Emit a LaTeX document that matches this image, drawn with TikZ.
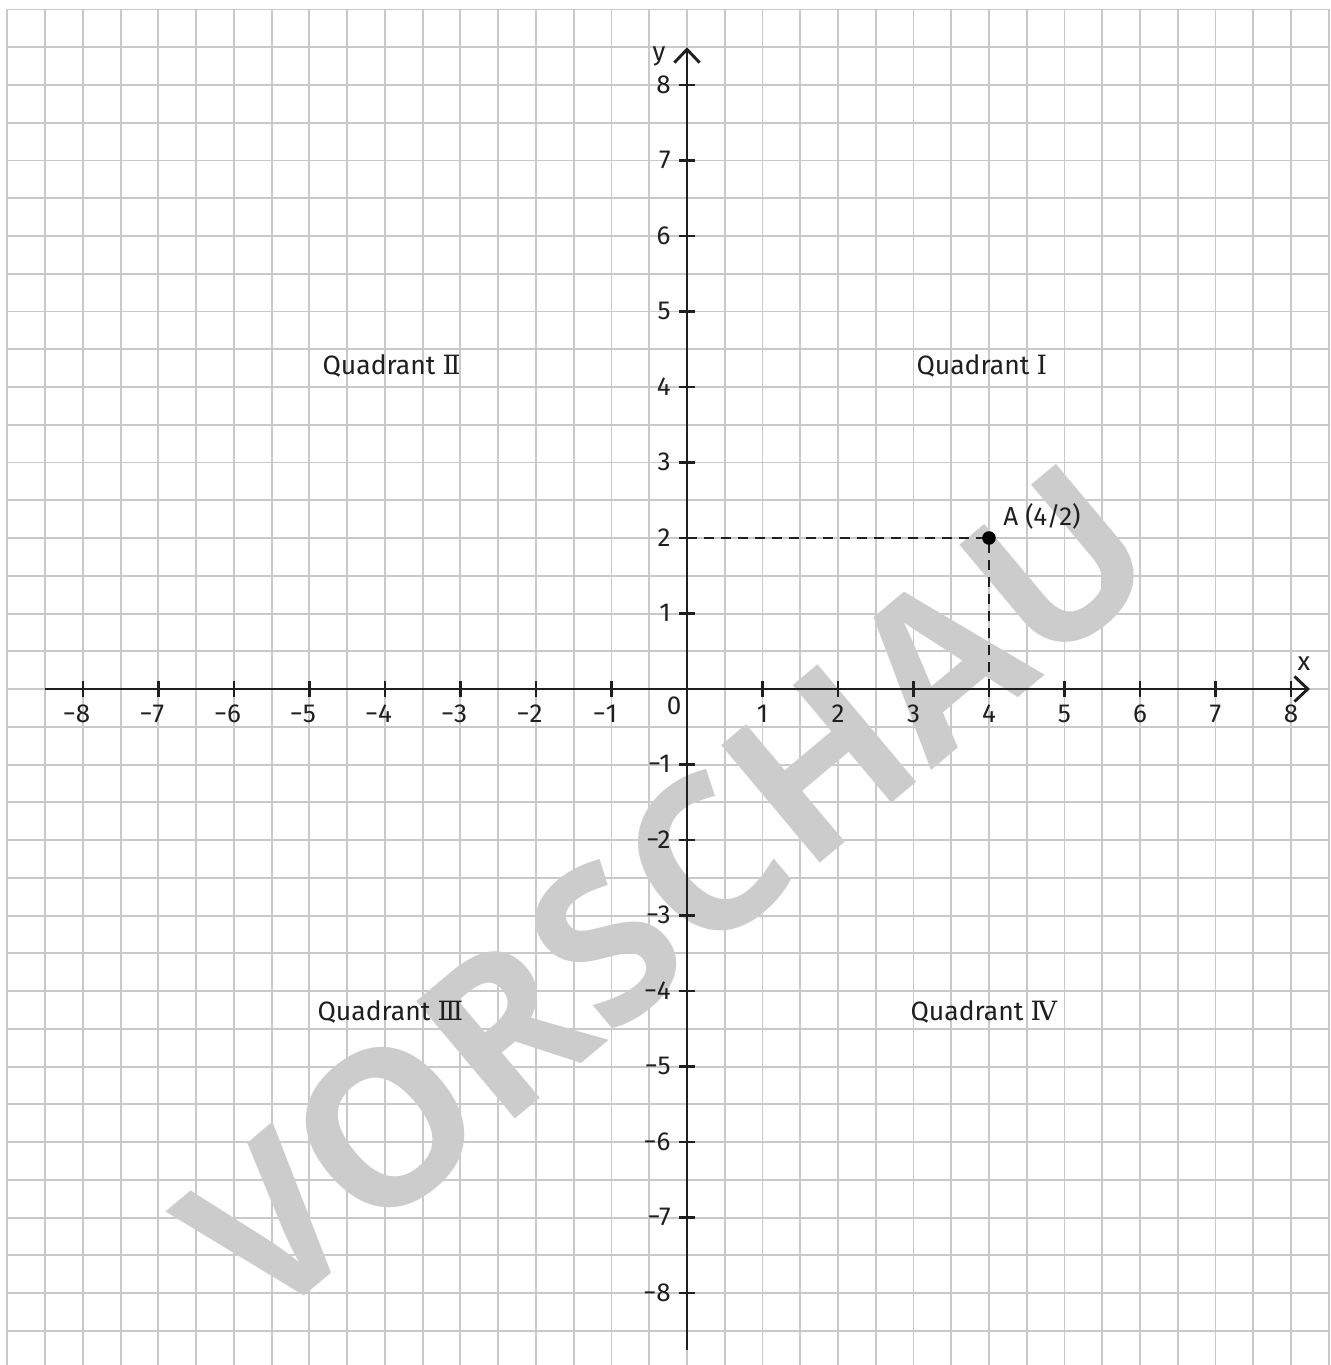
\documentclass[tikz,border=0pt]{standalone}
\usepackage{fontspec}
\setmainfont{Fira Sans}
\newfontfamily\romfont{DejaVu Serif}
\newfontfamily\wmfont{Open Sans}
\usetikzlibrary{arrows.meta}
\begin{document}
\begin{tikzpicture}[
  gridline/.style={draw=black!21, line width=0.75pt},
  axis/.style={draw=black!88, line width=1.1pt, -{Straight Barb[length=5pt,width=9.5pt,line width=1.1pt]}},
  tickmark/.style={draw=black!88, line width=1.1pt},
  ticklab/.style={font=\fontsize{9.8}{11}\selectfont, text=black!88, inner sep=0pt},
  quadlab/.style={font=\fontsize{10}{12}\selectfont, text=black!88, inner sep=0pt, anchor=base west},
  helpline/.style={draw=black!88, line width=1pt, dash pattern=on 3.8pt off 2.6pt},
  watermark/.style={font=\wmfont\bfseries\fontsize{81}{81}\selectfont, text=black!20, rotate=40, inner sep=0pt}
]
\useasboundingbox (-9.0993,-8.9536) rectangle (8.5166,9.1258);
\fill[white] (-9.0993,-8.9536) rectangle (8.5166,9.1258);
\begin{scope}
  \clip (-9.0993,-8.9536) rectangle (8.5166,9.1258);
  \draw[gridline] (-9,-9.5) grid[step=0.5] (8.9,9);
\end{scope}

% watermark
\node[watermark] (wm) at (-0.26,-2.68) {VORSCHAU};

% axes
\coordinate (xs) at (-8.5,0);
\coordinate (xe) at (8.25,0);
\coordinate (ys) at (0,-8.75);
\coordinate (ye) at (0,8.5);
\draw[axis] (xs) -- (xe);
\draw[axis] (ys) -- (ye);

\foreach \i in {1,...,8} {
  \draw[tickmark] (\i,-0.1) -- (\i,0.1);
  \draw[tickmark] (-\i,-0.1) -- (-\i,0.1);
  \draw[tickmark] (-0.1,\i) -- (0.1,\i);
  \draw[tickmark] (-0.1,-\i) -- (0.1,-\i);
  \node[ticklab, anchor=base] (xp\i) at (\i,-0.44) {\i};
  \node[ticklab, anchor=base] (xn\i) at (-\i,-0.44) {\llap{−}\i};
  \node[ticklab, anchor=base east] (yp\i) at (-0.21,\i-0.106) {\i};
  \node[ticklab, anchor=base east] (yn\i) at (-0.21,-\i-0.106) {−\i};
}
\node[ticklab, anchor=base] (zero) at (-0.17,-0.344) {0};
\node[ticklab, anchor=base] (xlab) at (8.17,0.24) {x};
\node[ticklab, anchor=base] (ylab) at (-0.37,8.33) {y};

% point A
\coordinate (Ay) at (0,2);
\coordinate (Ax) at (4,0);
\coordinate (Ac) at (4,2);
\draw[helpline] (Ay) -- (Ac);
\draw[helpline] (Ax) -- (Ac);
\node[circle, fill=black, inner sep=0pt, minimum size=0.18cm] (A) at (Ac) {};
\node[ticklab, anchor=base west] (Alab) at (4.185,2.17) {A (4/2)};

% quadrant labels
\node[quadlab] (q2) at (-4.834,4.16) {Quadrant {\romfont Ⅱ}};
\node[quadlab] (q1) at (3.033,4.16) {Quadrant {\romfont Ⅰ}};
\node[quadlab] (q3) at (-4.90,-4.384) {Quadrant {\romfont Ⅲ}};
\node[quadlab] (q4) at (2.954,-4.384) {Quadrant {\romfont Ⅳ}};
\end{tikzpicture}
\end{document}
